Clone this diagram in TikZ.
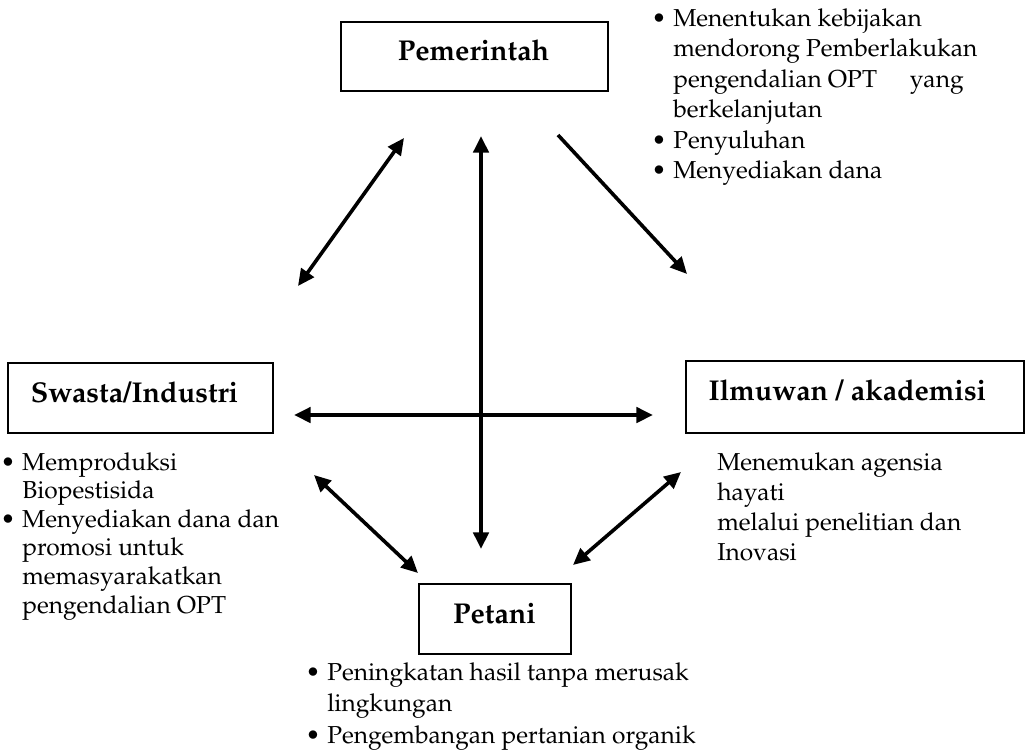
\documentclass[tikz,border=0pt]{standalone}
\usepackage[T1]{fontenc}
\usepackage{mathpazo}
\usetikzlibrary{arrows.meta}
% bullet hanging in the left margin of a text block
\newcommand\itembul{\llap{\textbullet\hspace{5pt}}}
\begin{document}
\begin{tikzpicture}[x=0.75pt,y=-0.75pt,
  box/.style={draw, line width=1.6pt, inner sep=0pt, anchor=north west},
  title/.style={font=\fontsize{21.5}{26}\selectfont\bfseries, inner sep=0pt, anchor=base},
  body/.style={inner sep=0pt, anchor=base west, align=left},
  tip/.tip={Triangle[length=12.5pt,width=11.5pt]},
  link/.style={line width=2.7pt, tip-tip},
  oneway/.style={line width=2.7pt, -tip}]
\useasboundingbox (0,0) rectangle (1029,750);

% actor boxes
\node[box, minimum width=200.25pt, minimum height=51.75pt] (pem) at (340,21) {};
\node[box, minimum width=198.75pt, minimum height=52.5pt] (swa) at (7,362) {};
\node[box, minimum width=253.5pt, minimum height=54pt] (ilm) at (685,360) {};
\node[box, minimum width=114pt, minimum height=52.5pt] (pet) at (418,583) {};

% actor names
\node[title] (tpem) at (473.5,60) {Pemerintah};
\node[title] (tswa) at (134.5,402) {Swasta/Industri};
\node[title] (tilm) at (847.5,400) {Ilmuwan / akademisi};
\node[title] (tpet) at (494.5,623) {Petani};

% roles of each actor (placed by the baseline of their last line)
\node[body, font=\fontsize{18.4}{22.8}\selectfont] (rpem) at (673,178.5)
  {\itembul Menentukan kebijakan\\
   mendorong Pemberlakukan\\
   pengendalian OPT\hspace{20pt} yang\\
   berkelanjutan\\
   \itembul Penyuluhan\\
   \itembul Menyediakan dana};
\node[body, font=\fontsize{18.4}{21.45}\selectfont] (rswa) at (22,613)
  {\itembul Memproduksi\\
   Biopestisida\\
   \itembul Menyediakan dana dan\\
   promosi untuk\\
   memasyarakatkan\\
   pengendalian OPT};
\node[body, font=\fontsize{18.4}{22.5}\selectfont] (rilm) at (717,560)
  {Menemukan agensia\\
   hayati\\
   melalui penelitian dan\\
   Inovasi};
\node[body, font=\fontsize{18.4}{23.6}\selectfont] (rpet) at (327,743)
  {\itembul Peningkatan hasil tanpa merusak\\
   lingkungan\\
   \itembul Pengembangan pertanian organik};

% arrow end points
\coordinate (pemL) at (404,138);  \coordinate (swaU) at (298,286);
\coordinate (pemB) at (481,136);  \coordinate (petT) at (481,549);
\coordinate (pemR) at (558,135);  \coordinate (ilmU) at (687,274);
\coordinate (swaR) at (294,415);  \coordinate (ilmL) at (653,415);
\coordinate (swaD) at (314,475);  \coordinate (petL) at (418,573);
\coordinate (ilmD) at (681,472);  \coordinate (petR) at (573,565);

% relations
\draw[link] (pemL) -- (swaU);
\draw[link] (pemB) -- (petT);
\draw[oneway] (pemR) -- (ilmU);
\draw[link] (swaR) -- (ilmL);
\draw[link] (swaD) -- (petL);
\draw[link] (ilmD) -- (petR);
\end{tikzpicture}
\end{document}
